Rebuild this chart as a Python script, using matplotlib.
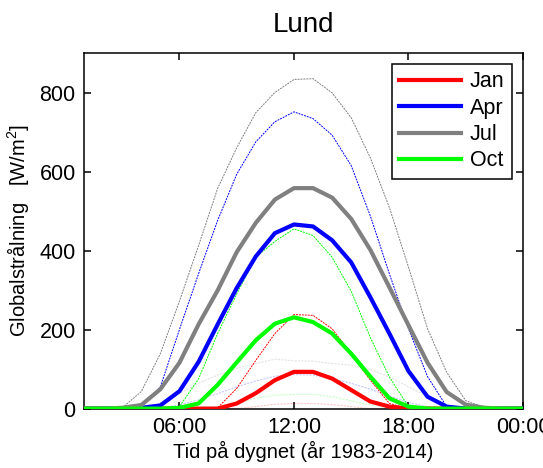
import numpy as np
from matplotlib import pyplot as plt

plt.rcParams['font.family'] = ['Liberation Sans', 'DejaVu Sans']
plt.rcParams['mathtext.fontset'] = 'custom'
plt.rcParams['mathtext.rm'] = 'Liberation Sans'

# timmar 1..24 (medel, max och min per timme)
timmar = np.arange(1, 25)

jan_medel = [0, 0, 0, 0, 0, 0, 0, 0, 13, 39, 72, 93, 93, 76, 47, 18, 5, 0, 0, 0, 0, 0, 0, 0]
jan_max = [0, 0, 0, 0, 0, 0, 0, 2, 51, 122, 190, 238, 236, 202, 139, 72, 13, 0, 0, 0, 0, 0, 0, 0]
jan_min = [0, 0, 0, 0, 0, 0, 0, 0, 0, 5, 11, 13, 13, 10, 5, 0, 0, 0, 0, 0, 0, 0, 0, 0]

apr_medel = [0, 0, 0, 2, 8, 44, 118, 213, 305, 385, 444, 466, 461, 426, 370, 282, 190, 95, 30, 5, 0, 0, 0, 0]
apr_max = [0, 0, 0, 5, 55, 200, 341, 476, 593, 675, 726, 751, 734, 692, 615, 488, 341, 202, 81, 5, 0, 0, 0, 0]
apr_min = [0, 0, 0, 0, 2, 9, 22, 38, 55, 70, 82, 86, 85, 76, 64, 49, 32, 15, 5, 0, 0, 0, 0, 0]

jul_medel = [0, 0, 2, 9, 49, 116, 213, 299, 396, 470, 529, 558, 558, 534, 480, 402, 307, 211, 116, 42, 10, 2, 0, 0]
jul_max = [0, 0, 2, 43, 139, 272, 412, 557, 660, 749, 800, 833, 835, 799, 736, 635, 509, 358, 202, 92, 20, 2, 0, 0]
jul_min = [0, 0, 0, 2, 13, 38, 64, 85, 102, 114, 125, 121, 120, 114, 110, 99, 80, 55, 30, 5, 0, 0, 0, 0]

okt_medel = [0, 0, 0, 0, 0, 2, 13, 60, 117, 173, 215, 231, 219, 190, 139, 81, 26, 5, 0, 0, 0, 0, 0, 0]
okt_max = [0, 0, 0, 0, 0, 5, 75, 190, 290, 383, 423, 455, 438, 383, 297, 180, 80, 5, 0, 0, 0, 0, 0, 0]
okt_min = [0, 0, 0, 0, 0, 0, 2, 5, 13, 26, 34, 36, 36, 30, 20, 9, 2, 0, 0, 0, 0, 0, 0, 0]

manader = ['Jan', 'Apr', 'Jul', 'Oct']
farger = [(1, 0, 0), (0, 0, 1), (0.5, 0.5, 0.5), (0, 1, 0)]
medel = [jan_medel, apr_medel, jul_medel, okt_medel]
maxv = [jan_max, apr_max, jul_max, okt_max]
minv = [jan_min, apr_min, jul_min, okt_min]

fig = plt.figure(figsize=(5.43, 4.68), dpi=100)
ax = fig.add_axes([84 / 543, 1 - 408.6 / 468, 439 / 543, 355.6 / 468])

for m, f, y in zip(manader, farger, medel):
    ax.plot(timmar, y, color=f, lw=3, label=m, zorder=3)
for f, y in zip(farger, maxv):
    ax.plot(timmar, y, color=f, lw=0.7, ls=(0, (2, 1)), zorder=2)
for f, y in zip(farger, minv):
    ax.plot(timmar, y, color=f, lw=0.8, ls=(0, (2, 1)), alpha=0.22, zorder=1)

ax.set_xlim(1, 24)
ax.set_ylim(0, 900)
ax.set_xticks([6, 12, 18, 24])
ax.set_xticklabels(['06:00', '12:00', '18:00', '00:00'])
ax.set_yticks([0, 200, 400, 600, 800])
ax.tick_params(direction='in', top=True, right=True, length=5, width=1.1,
               labelsize=15.5, pad=6)
for s in ax.spines.values():
    s.set_linewidth(1.1)

ax.set_title('Lund', fontsize=20, pad=15)
ax.set_xlabel('Tid på dygnet (år 1983-2014)', fontsize=14.5, labelpad=2)
ax.set_ylabel('Globalstrålning   [W/m$^{2}$]', fontsize=14.5, labelpad=6)

leg = ax.legend(loc='upper right', fontsize=15.5, fancybox=False, framealpha=1,
                edgecolor='black', handlelength=2.9, labelspacing=0.25,
                borderaxespad=0.5, handletextpad=0.4, borderpad=0.35)
leg.get_frame().set_linewidth(1.1)

fig.savefig('out.png', dpi=100)
